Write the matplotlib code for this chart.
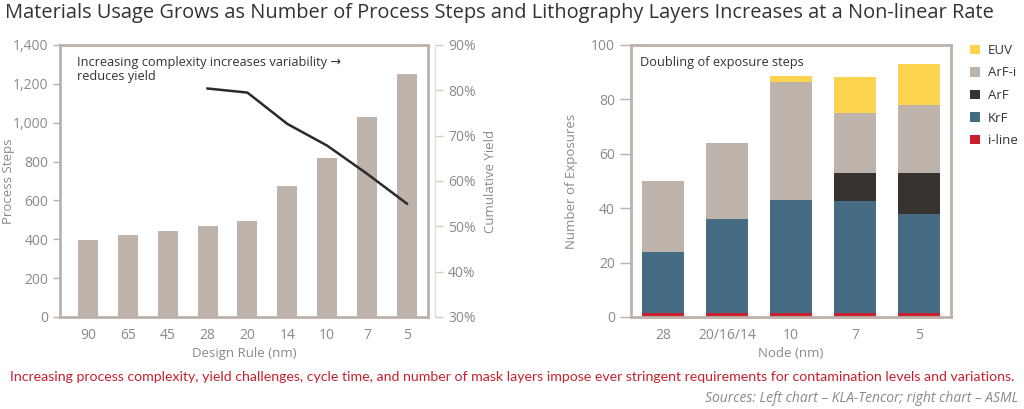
import matplotlib
matplotlib.use("Agg")
import matplotlib.pyplot as plt
import numpy as np

plt.rcParams['font.family'] = ['Open Sans', 'DejaVu Sans']

# ---- data ----
design_rules = ["90", "65", "45", "28", "20", "14", "10", "7", "5"]
process_steps = [395, 420, 445, 470, 495, 675, 820, 1030, 1250]
yield_rules = ["28", "20", "14", "10", "7", "5"]
cumulative_yield = [80.4, 79.5, 72.6, 67.8, 61.6, 55.0]

nodes = ["28", "20/16/14", "10", "7", "5"]
iline = [1.5, 1.5, 1.5, 1.5, 1.5]
krf = [22.5, 34.5, 41.5, 41.0, 36.5]
arf = [0, 0, 0, 10.5, 15.0]
arfi = [26.0, 28.0, 43.5, 22.0, 25.0]
euv = [0, 0, 2.0, 13.2, 15.0]

# ---- style ----
GRAY_BAR = "#BDB3AB"
SPINE = "#BCB2AA"
TICK_TXT = "#8A8A8A"
DARK = "#333333"
KRF = "#456C83"
ARF = "#363230"
EUV = "#FDD44F"
ILINE = "#C8202F"

fig = plt.figure(figsize=(10.24, 4.09), dpi=100)

fig.text(0.005, 0.968, "Materials Usage Grows as Number of Process Steps and Lithography Layers Increases at a Non-linear Rate",
         fontsize=14.4, color=DARK, ha="left", va="center")

# ---- left chart ----
ax = fig.add_axes([0.0586, 0.225, 0.418 - 0.0586, 0.665])
x = np.arange(len(design_rules))
ax.bar(x, process_steps, width=0.5, color=GRAY_BAR, zorder=2)
ax.set_xlim(-0.7, 8.53)
ax.set_ylim(0, 1400)
ax.set_yticks(range(0, 1401, 200))
ax.set_yticklabels([f"{v:,}" for v in range(0, 1401, 200)])
ax.set_xticks(x)
ax.set_xticklabels(design_rules)
for s in ax.spines.values():
    s.set_color(SPINE)
    s.set_linewidth(2)
ax.tick_params(axis="y", colors=SPINE, labelcolor=TICK_TXT, labelsize=10, length=5, width=1, direction="out")
ax.tick_params(axis="x", length=0, labelcolor=TICK_TXT, labelsize=10, pad=8)
ax.set_ylabel("Process Steps", color=TICK_TXT, fontsize=9.5)
ax.yaxis.set_label_coords(-0.123, 0.5)
ax.set_xlabel("Design Rule (nm)", color=TICK_TXT, fontsize=9.5, labelpad=3)
ax.text(0.046, 0.96, "Increasing complexity increases variability \u2192\nreduces yield",
        transform=ax.transAxes, fontsize=9.2, color=DARK, ha="left", va="top", linespacing=1.1)

ax2 = ax.twinx()
xi = [design_rules.index(r) for r in yield_rules]
ax2.plot(xi, cumulative_yield, color="#2A2A2A", lw=1.8, zorder=3)
ax2.set_ylim(30, 90)
ax2.set_yticks(range(30, 91, 10))
ax2.set_yticklabels([f"{v}%" for v in range(30, 91, 10)])
for k in ["left", "top", "bottom"]:
    ax2.spines[k].set_visible(False)
ax2.spines["right"].set_position(("outward", 5))
ax2.spines["right"].set_color("#E2DDD9")
ax2.spines["right"].set_linewidth(1)
ax2.tick_params(axis="y", colors="#D5CFCA", labelcolor=TICK_TXT, labelsize=10, length=6, width=1)
ax2.set_ylabel("Cumulative Yield", color=TICK_TXT, fontsize=9.5)
ax2.yaxis.set_label_coords(1.152, 0.5)

# ---- right chart ----
bx = fig.add_axes([631 / 1024, 0.225, (951 - 631) / 1024, 0.665])
xn = np.arange(len(nodes))
w = 0.66
bottom = np.zeros(len(nodes))
handles = {}
for name, vals, col in [("i-line", iline, ILINE), ("KrF", krf, KRF), ("ArF", arf, ARF),
                        ("ArF-i", arfi, GRAY_BAR), ("EUV", euv, EUV)]:
    h = bx.bar(xn, vals, width=w, bottom=bottom, color=col, zorder=2, label=name)
    handles[name] = h
    bottom += np.array(vals)
bx.set_xlim(-0.5, 4.5)
bx.set_ylim(0, 100)
bx.set_yticks(range(0, 101, 20))
bx.set_xticks(xn)
bx.set_xticklabels(nodes)
for s in bx.spines.values():
    s.set_color(SPINE)
    s.set_linewidth(2)
bx.tick_params(axis="y", colors=SPINE, labelcolor=TICK_TXT, labelsize=10, length=8, width=1)
bx.tick_params(axis="x", length=0, labelcolor=TICK_TXT, labelsize=10, pad=8)
bx.set_ylabel("Number of Exposures", color=TICK_TXT, fontsize=9.5)
bx.yaxis.set_label_coords(-0.165, 0.5)
bx.set_xlabel("Node (nm)", color=TICK_TXT, fontsize=9.5, labelpad=3)
bx.text(0.028, 0.96, "Doubling of exposure steps", transform=bx.transAxes,
        fontsize=9.2, color=DARK, ha="left", va="top")

order = ["EUV", "ArF-i", "ArF", "KrF", "i-line"]
leg = fig.legend([handles[k] for k in order], order, loc="upper left",
                 bbox_to_anchor=(970 / 1024, 1 - 44 / 409), frameon=False,
                 fontsize=9.5, handlelength=0.75, handleheight=0.75, handletextpad=0.6,
                 labelspacing=0.72, borderaxespad=0, borderpad=0)
for t in leg.get_texts():
    t.set_color(DARK)

# ---- footer ----
fig.text(0.5, 1 - 377 / 409,
         "Increasing process complexity, yield challenges, cycle time, and number of mask layers impose ever stringent requirements for contamination levels and variations.",
         fontsize=10.2, color=ILINE, ha="center", va="center", family=["Lato", "DejaVu Sans"])
fig.text(1018 / 1024, 1 - 399 / 409, "Sources: Left chart \u2013 KLA-Tencor; right chart \u2013 ASML",
         fontsize=10, color=TICK_TXT, ha="right", va="center", style="italic")

fig.savefig("out.png", dpi=100)
